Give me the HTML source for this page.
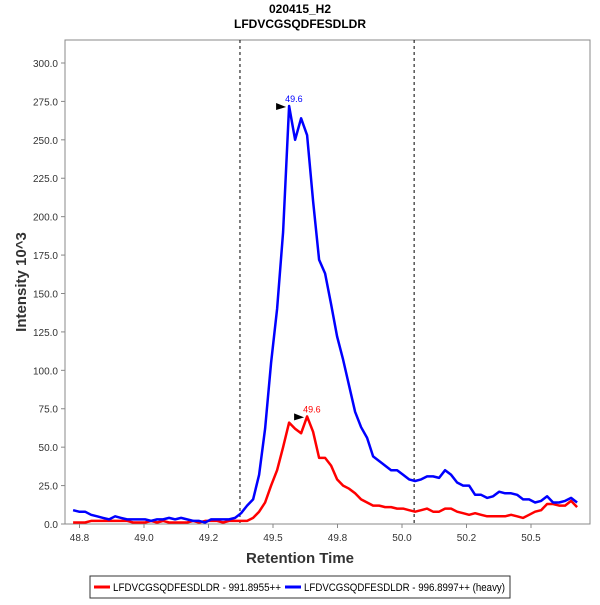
<!DOCTYPE html>
<html><head><meta charset="utf-8"><style>
body{margin:0;background:#fff;font-family:"Liberation Sans",sans-serif}
svg text{font-family:"Liberation Sans",sans-serif}
</style></head><body>
<svg id="c" width="600" height="600">
<text x="300" y="13" text-anchor="middle" font-size="12" font-weight="bold">020415_H2</text>
<text x="300" y="28" text-anchor="middle" font-size="12" font-weight="bold">LFDVCGSQDFESDLDR</text>
<rect x="65" y="40" width="525" height="484" fill="#fff" stroke="#888"/>
<g id="ax"></g><g id="ser"></g>
<text x="300" y="563" text-anchor="middle" font-size="15" font-weight="bold" fill="#333">Retention Time</text>
<text transform="translate(26,282) rotate(-90)" text-anchor="middle" font-size="15" font-weight="bold" fill="#333">Intensity 10^3</text>
<g>
<rect x="90" y="576" width="420" height="22" fill="#fff" stroke="#333"/>
<line x1="94" y1="587" x2="110" y2="587" stroke="#f00" stroke-width="3"/>
<text x="113" y="591" font-size="11" textLength="168" lengthAdjust="spacingAndGlyphs">LFDVCGSQDFESDLDR - 991.8955++</text>
<line x1="285" y1="587" x2="301" y2="587" stroke="#00f" stroke-width="3"/>
<text x="304" y="591" font-size="11" textLength="201" lengthAdjust="spacingAndGlyphs">LFDVCGSQDFESDLDR - 996.8997++ (heavy)</text>
</g>
</svg>
<script>
const rtStart = 48.725;
const rtStep = 0.02326;
const heavyValues = [9,8,8,6,5,4,3,5,4,3,3,3,3,2,3,3,4,3,4,3,2,2,1,3,3,3,3,4,7,12,16,32,62,105,140,190,272,250,264,253,210,172,163,143,122,107,90,73,63,56,44,41,38,35,35,32,29,28,29,31,31,30,35,32,27,25,25,19,19,17,18,21,20,20,19,16,16,14,15,18,14,14,15,17,14];
const lightValues = [1,1,1,2,2,2,2,2,2,2,1,1,1,2,1,2,1,1,1,1,2,1,2,2,2,1,2,2,2,2,4,8,14,25,35,50,66,62,59,70,60,43,43,38,29,25,23,20,16,14,12,12,11,11,10,10,9,8,9,10,8,8,10,10,8,7,6,7,6,5,5,5,5,6,5,4,6,8,9,13,13,12,12,15,11];
const yTicks = [0,25,50,75,100,125,150,175,200,225,250,275,300];
const xTicks = [48.75,49.0,49.25,49.5,49.75,50.0,50.25,50.5];
const xTickLabels = ["48.8","49.0","49.2","49.5","49.8","50.0","50.2","50.5"];
const boundaries = [49.372,50.047];
const peakLabels = ["49.6","49.6"];
const NS='http://www.w3.org/2000/svg';
const X=t=>79.5+(t-48.75)*258;
const Y=v=>524-v*1.5367;
function mk(tag,attrs,parent,txt){const e=document.createElementNS(NS,tag);for(const k in attrs)e.setAttribute(k,attrs[k]);if(txt!==undefined)e.textContent=txt;parent.appendChild(e);return e;}
const ax=document.getElementById('ax'),ser=document.getElementById('ser');
yTicks.forEach(v=>{
  const l=mk('line',{x1:61,x2:65,y1:Y(v),y2:Y(v),stroke:'#888'},ax);
  
  
  const t=mk('text',{x:58,y:Y(v)+4,'text-anchor':'end','font-size':10,fill:'#333'},ax,v.toFixed(1));
  
  
});
xTicks.forEach((v,i)=>{
  const l=mk('line',{x1:X(v),x2:X(v),y1:524,y2:528,stroke:'#888'},ax);
  
  
  const t=mk('text',{x:X(v),y:541,'text-anchor':'middle','font-size':10,fill:'#333'},ax,xTickLabels[i]);
  
  
});
boundaries.forEach(b=>{
  const l=mk('line',{x1:X(b),x2:X(b),y1:40,y2:524,stroke:'#000','stroke-dasharray':'3,3'},ax);
  
  
});
function series(vals,color,name,label){
  const pts=vals.map((v,i)=>X(rtStart+i*rtStep).toFixed(1)+','+Y(v).toFixed(1)).join(' ');
  const p=mk('polyline',{points:pts,fill:'none',stroke:color,'stroke-width':2.5,'stroke-linejoin':'round'},ser);
  
  
  let mi=0;vals.forEach((v,i)=>{if(v>vals[mi])mi=i;});
  const px=X(rtStart+mi*rtStep),py=Y(vals[mi]);
  const a=mk('polygon',{points:`${px-13},${py-3} ${px-13},${py+4} ${px-3},${py+1}`,fill:'#000'},ser);
  
  
  const t=mk('text',{x:px-4,y:py-4,'font-size':9,fill:color},ser,label);
  
  
}
series(lightValues,'#f00','light-series',peakLabels[0]);
series(heavyValues,'#00f','heavy-series',peakLabels[1]);
</script>
</body></html>
